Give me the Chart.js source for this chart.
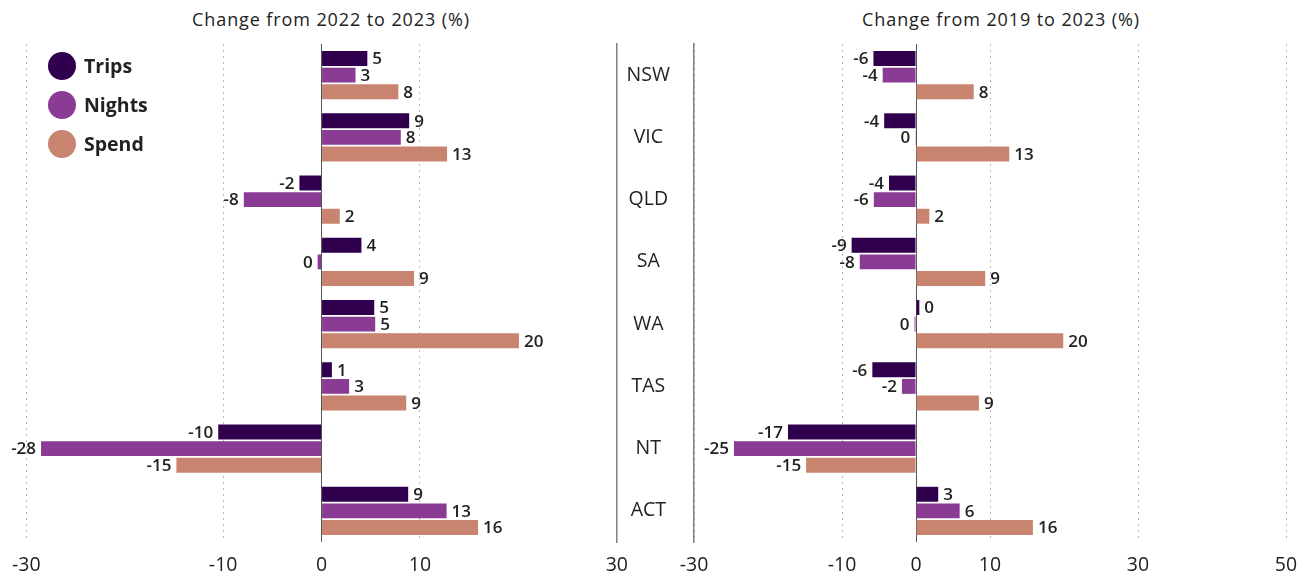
<!DOCTYPE html>
<html>
<head>
<meta charset="utf-8">
<script src="https://cdn.jsdelivr.net/npm/chart.js@4.4.1/dist/chart.umd.min.js"></script>
<style>
  body { margin: 0; background: #fff; font-family: "Open Sans", sans-serif; color: #222; }
  #page { position: relative; width: 1310px; height: 573px; overflow: hidden; }
  .title { position: absolute; top: 7px; font-size: 18px; letter-spacing: 0.9px; transform: translateX(-50%); white-space: nowrap; }
  .wrap { position: absolute; top: 0; height: 573px; }
  #legend { position: absolute; left: 48px; top: 46px; }
  .item { display: flex; align-items: center; height: 39px; font-weight: 700; font-size: 19.5px; }
  .dot { width: 28px; height: 28px; border-radius: 50%; margin-right: 8px; }
</style>
</head>
<body>
<div id="page">
  <div class="title" style="left:331px">Change from 2022 to 2023 (%)</div>
  <div class="title" style="left:1001px">Change from 2019 to 2023 (%)</div>
  <div class="wrap" style="left:0; width:640px"><canvas id="leftChart"></canvas></div>
  <div class="wrap" style="left:617px; width:693px"><canvas id="rightChart"></canvas></div>
  <div id="legend"></div>
</div>
<script>
// categories
const states = ["NSW", "VIC", "QLD", "SA", "WA", "TAS", "NT", "ACT"];
const seriesNames = ["Trips", "Nights", "Spend"];
const seriesColors = ["#30004e", "#8a3b93", "#c8846e"];

// change from 2022 to 2023 (%)
const trips2022 = [4.65, 8.9, -2.25, 4.05, 5.35, 1.05, -10.5, 8.8];
const nights2022 = [3.45, 8.05, -7.9, -0.4, 5.45, 2.8, -28.5, 12.7];
const spend2022 = [7.8, 12.75, 1.85, 9.4, 20.05, 8.6, -14.75, 15.9];

// change from 2019 to 2023 (%)
const trips2019 = [-5.75, -4.3, -3.65, -8.7, 0.45, -5.9, -17.3, 3.0];
const nights2019 = [-4.5, -0.1, -5.7, -7.6, -0.2, -1.9, -24.6, 5.9];
const spend2019 = [7.8, 12.6, 1.8, 9.35, 19.9, 8.5, -14.85, 15.8];

// tick labels
const leftTicks = [-30, -10, 0, 10, 30];
const rightTicks = [-30, -10, 0, 10, 30, 50];

// value labels next to each bar
const barLabels = {
    id: "barLabels",
    afterDatasetsDraw(chart) {
        const ctx = chart.ctx;
        ctx.save();
        ctx.font = "600 17px 'Open Sans'";
        ctx.fillStyle = "#222";
        ctx.textBaseline = "middle";
        chart.data.datasets.forEach((ds, i) => {
            chart.getDatasetMeta(i).data.forEach((bar, j) => {
                const v = ds.data[j];
                const txt = String(Math.round(v));
                if (v >= 0) {
                    ctx.textAlign = "left";
                    ctx.fillText(txt, bar.x + 5, bar.y + 1);
                } else {
                    ctx.textAlign = "right";
                    ctx.fillText(txt, bar.x - 5, bar.y + 1);
                }
            });
        });
        ctx.restore();
    }
};

function makeDatasets(values) {
    return values.map((d, i) => ({
        label: seriesNames[i],
        data: d,
        backgroundColor: seriesColors[i],
        categoryPercentage: 0.8,
        barPercentage: 0.9
    }));
}

function xScale(min, max, ticks) {
    return {
        min: min,
        max: max,
        afterBuildTicks: s => { s.ticks = ticks.map(v => ({ value: v })); },
        afterFit: s => { s.height = 31; },
        grid: {
            drawTicks: false,
            lineWidth: 1,
            color: c => c.tick && c.tick.value === 0 ? "#555" : "#b5b5b5"
        },
        border: {
            display: false,
            dash: c => c.tick && c.tick.value === 0 ? [] : [2, 4]
        },
        ticks: {
            padding: 12,
            color: "#222",
            font: { family: "'Open Sans'", size: 19.5 },
            callback: v => String(v)
        }
    };
}

const common = {
    indexAxis: "y",
    responsive: true,
    maintainAspectRatio: false,
    animation: false,
    plugins: { legend: { display: false }, tooltip: { enabled: false } }
};

new Chart("leftChart", {
    type: "bar",
    data: {
        labels: states,
        datasets: makeDatasets([trips2022, nights2022, spend2022])
    },
    options: Object.assign({}, common, {
        layout: { padding: { left: 25, top: 44, right: 0, bottom: 0 } },
        scales: {
            x: xScale(-30, 30, leftTicks),
            y: {
                position: "right",
                afterFit: s => { s.width = 23; },
                grid: { display: false },
                ticks: { display: false },
                border: { display: true, color: "#808080", width: 1.5 }
            }
        }
    }),
    plugins: [barLabels]
});

new Chart("rightChart", {
    type: "bar",
    data: {
        labels: states,
        datasets: makeDatasets([trips2019, nights2019, spend2019])
    },
    options: Object.assign({}, common, {
        layout: { padding: { left: 0, top: 44, right: 24, bottom: 0 } },
        scales: {
            x: xScale(-30, 50, rightTicks),
            y: {
                position: "left",
                afterFit: s => { s.width = 77; },
                grid: { display: false },
                ticks: {
                    crossAlign: "center",
                    padding: 16,
                    color: "#222",
                    font: { family: "'Open Sans'", size: 19.5 }
                },
                border: { display: true, color: "#808080", width: 1.5 }
            }
        }
    }),
    plugins: [barLabels]
});

// legend
const legend = document.getElementById("legend");
seriesNames.forEach((name, i) => {
    const row = document.createElement("div");
    row.className = "item";
    row.innerHTML = '<span class="dot" style="background:' + seriesColors[i] + '"></span>' + name;
    legend.appendChild(row);
});
</script>
</body>
</html>
